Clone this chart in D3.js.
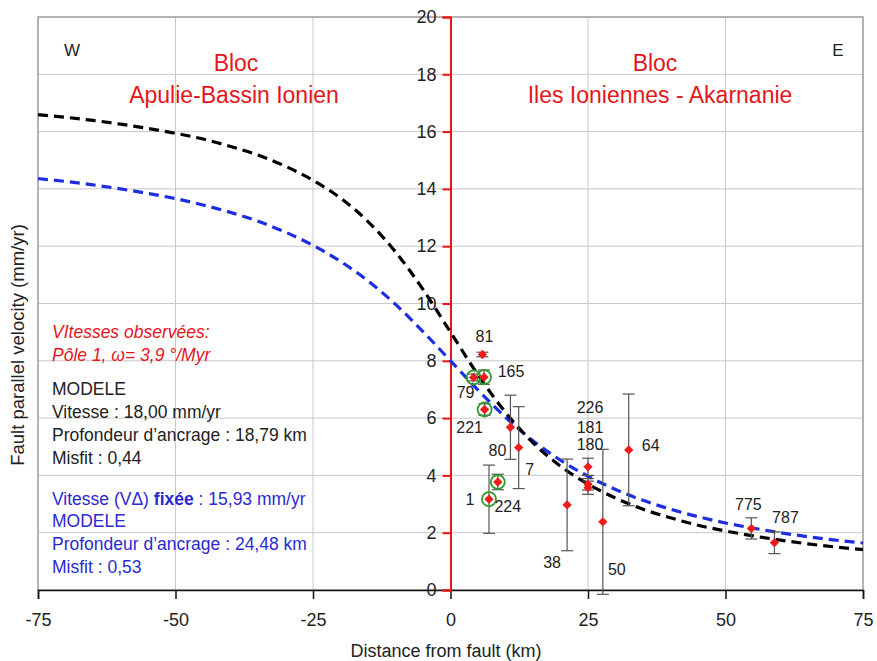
<!DOCTYPE html>
<html><head><meta charset="utf-8">
<script src="https://cdn.jsdelivr.net/npm/d3@7/dist/d3.min.js"></script>
<style>
html,body{margin:0;padding:0;background:#fff;}
svg{display:block;}
text{font-family:"Liberation Sans",Arial,sans-serif;}
</style></head>
<body>
<svg id="chart" width="877" height="661"></svg>
<script>
// ---- data ----
const stationIds = ["81","79","165","221","80","7","224","1","38","226","181","180","50","64","775","787"];
const stationDist = [5.8,4.2,6.1,6.2,10.9,12.4,8.6,7.0,21.2,25.0,25.0,25.0,27.7,32.4,54.7,58.9];
const stationVel  = [8.22,7.42,7.43,6.30,5.68,4.97,3.77,3.17,2.97,4.30,3.69,3.57,2.38,4.89,2.15,1.65];
const stationErr  = [0.08,0.12,0.25,0.2,1.12,1.43,0.27,1.19,1.6,0.3,0.2,0.23,2.53,1.95,0.37,0.38];
const circled     = [false,true,true,true,false,false,true,true,false,false,false,false,false,false,false,false];
// label offsets (px) relative to marker
const labelDx = [2,-8,27,-15,-13,11,10,-19,-15,2,2,2,14,22,-3,11];
const labelDy = [-18,15,-6,18,23,22,25,0,58,-59,-57,-43,48,-4,-24,-25];

const modelX   = [-75,-70,-65,-60,-55,-50,-45,-40,-35,-30,-25,-20,-15,-10,-5,0,5,10,15,20,25,30,35,40,45,50,55,60,65,70,75];
const modelBlack = [16.59,16.50,16.39,16.26,16.11,15.94,15.74,15.48,15.18,14.79,14.30,13.68,12.86,11.80,10.49,9.00,7.51,6.20,5.14,4.32,3.70,3.21,2.82,2.52,2.26,2.06,1.89,1.74,1.61,1.50,1.41];
const modelBlue  = [14.36,14.26,14.14,14.00,13.84,13.66,13.44,13.18,12.87,12.49,12.03,11.47,10.79,9.97,9.02,8.00,6.98,6.03,5.21,4.53,3.97,3.51,3.13,2.82,2.56,2.34,2.16,2.00,1.86,1.74,1.64];

const xTicks = [-75,-50,-25,0,25,50,75];
const yTicks = [0,2,4,6,8,10,12,14,16,18,20];

// ---- layout ----
const L=38,R=863,T=17,B=590;
const svg=d3.select("#chart");
const x=d3.scaleLinear().domain([-75,75]).range([L,R]);
const y=d3.scaleLinear().domain([0,20]).range([B,T]);

// grid
const g=svg.append("g");
g.selectAll(".vg").data(xTicks.filter(d=>d!==0)).join("line")
 .attr("x1",d=>x(d)).attr("x2",d=>x(d)).attr("y1",T).attr("y2",B)
 .attr("stroke","#c8c8c8").attr("stroke-width",1);
g.selectAll(".hg").data(yTicks.filter(d=>d!==0)).join("line")
 .attr("x1",L).attr("x2",R).attr("y1",d=>y(d)).attr("y2",d=>y(d))
 .attr("stroke","#c8c8c8").attr("stroke-width",1);
svg.append("rect").attr("x",L).attr("y",T).attr("width",R-L).attr("height",B-T)
 .attr("fill","none").attr("stroke","#999").attr("stroke-width",1.3);

// x axis
const xa=svg.append("g").attr("transform",`translate(0,${B})`)
 .call(d3.axisBottom(x).tickValues(xTicks).tickSize(9).tickPadding(14).tickFormat(d=>String(d)));
xa.select(".domain").attr("stroke","#111").attr("stroke-width",1.5);
xa.selectAll(".tick line").attr("stroke","#111").attr("stroke-width",1.5);
xa.selectAll("text").attr("font-size",18).attr("fill","#222")
 .style("font-family",'"Liberation Sans",sans-serif');

// y axis (red, at x=0)
const ya=svg.append("g").attr("transform",`translate(${x(0)},0)`)
 .call(d3.axisLeft(y).tickValues(yTicks).tickSize(8).tickPadding(6).tickFormat(d=>String(d)));
ya.select(".domain").attr("stroke","#e8161b").attr("stroke-width",2);
ya.selectAll(".tick line").attr("stroke","#e8161b").attr("stroke-width",2);
ya.selectAll("text").attr("font-size",18).attr("fill","#222");

// model curves
svg.append("clipPath").attr("id","pc").append("rect")
 .attr("x",L).attr("y",T).attr("width",R-L).attr("height",B-T);
const line=d3.line().x((d,i)=>x(modelX[i])).y(d=>y(d)).curve(d3.curveMonotoneX);
svg.append("path").datum(modelBlue).attr("d",line).attr("fill","none")
 .attr("stroke","#1c2ee0").attr("stroke-width",3.2).attr("stroke-dasharray","10,6")
 .attr("clip-path","url(#pc)");
svg.append("path").datum(modelBlack).attr("d",line).attr("fill","none")
 .attr("stroke","#000").attr("stroke-width",3.2).attr("stroke-dasharray","10,6")
 .attr("clip-path","url(#pc)");

// stations
const st=stationIds.map((id,i)=>({id,x:stationDist[i],v:stationVel[i],e:stationErr[i],c:circled[i],dx:labelDx[i],dy:labelDy[i]}));
const eg=svg.append("g");
st.forEach(d=>{
  const px=x(d.x), y1=y(d.v+d.e), y2=y(d.v-d.e);
  eg.append("line").attr("x1",px).attr("x2",px).attr("y1",y1).attr("y2",y2).attr("stroke","#555").attr("stroke-width",1.2);
  [y1,y2].forEach(yy=>eg.append("line").attr("x1",px-6).attr("x2",px+6).attr("y1",yy).attr("y2",yy).attr("stroke","#555").attr("stroke-width",1.2));
});
svg.append("g").selectAll("circle").data(st.filter(d=>d.c)).join("circle")
 .attr("cx",d=>x(d.x)).attr("cy",d=>y(d.v)).attr("r",7)
 .attr("fill","none").attr("stroke","#2f9a2f").attr("stroke-width",1.8);
const sym=d3.symbol().type(d3.symbolDiamond2).size(55);
svg.append("g").selectAll("path").data(st).join("path")
 .attr("transform",d=>`translate(${x(d.x)},${y(d.v)})`)
 .attr("d",sym).attr("fill","#ee1c1c");
svg.append("g").selectAll("text").data(st).join("text")
 .attr("x",d=>x(d.x)+d.dx).attr("y",d=>y(d.v)+d.dy)
 .attr("text-anchor","middle").attr("dominant-baseline","central")
 .attr("font-size",16).attr("fill","#222")
 .text(d=>d.id);

// annotations
const ann=(t,xx,yy,opt={})=>svg.append("text").attr("x",xx).attr("y",yy)
 .attr("font-size",opt.fs||17).attr("fill",opt.fill||"#222")
 .attr("text-anchor",opt.anchor||"start").attr("font-style",opt.italic?"italic":null)
 .text(t);
ann("W",72,56,{fs:17,anchor:"middle"});
ann("E",838,56,{fs:17,anchor:"middle"});
const red="#e5161b";
ann("Bloc",236,71,{fs:23,fill:red,anchor:"middle"});
ann("Apulie-Bassin Ionien",234,103,{fs:23,fill:red,anchor:"middle"});
ann("Bloc",655,71,{fs:23,fill:red,anchor:"middle"});
ann("Iles Ioniennes - Akarnanie",660,103,{fs:23,fill:red,anchor:"middle"});

ann("VItesses observées:",52,338,{fs:17.5,fill:red,italic:true});
ann("Pôle 1, ω= 3,9 °/Myr",52,361,{fs:17.5,fill:red,italic:true});
ann("MODELE",52,395,{fs:17.5});
ann("Vitesse : 18,00 mm/yr",52,418,{fs:17.5});
ann("Profondeur d’ancrage : 18,79 km",52,441,{fs:17.5});
ann("Misfit : 0,44",52,464,{fs:17.5});
const blue="#2a2ad0";
const t1=ann("Vitesse (VΔ) ",52,505,{fs:17.5,fill:blue});
t1.append("tspan").attr("font-weight","bold").text("fixée");
t1.append("tspan").text(" : 15,93 mm/yr");
ann("MODELE",52,527,{fs:17.5,fill:blue});
ann("Profondeur d’ancrage : 24,48 km",52,550,{fs:17.5,fill:blue});
ann("Misfit : 0,53",52,573,{fs:17.5,fill:blue});

// axis titles
ann("Distance from fault (km)",446,657,{fs:18,anchor:"middle"});
svg.append("text").attr("transform","translate(24,345) rotate(-90)")
 .attr("text-anchor","middle").attr("font-size",18.5).attr("fill","#222")
 .text("Fault parallel velocity (mm/yr)");
</script>
</body></html>
